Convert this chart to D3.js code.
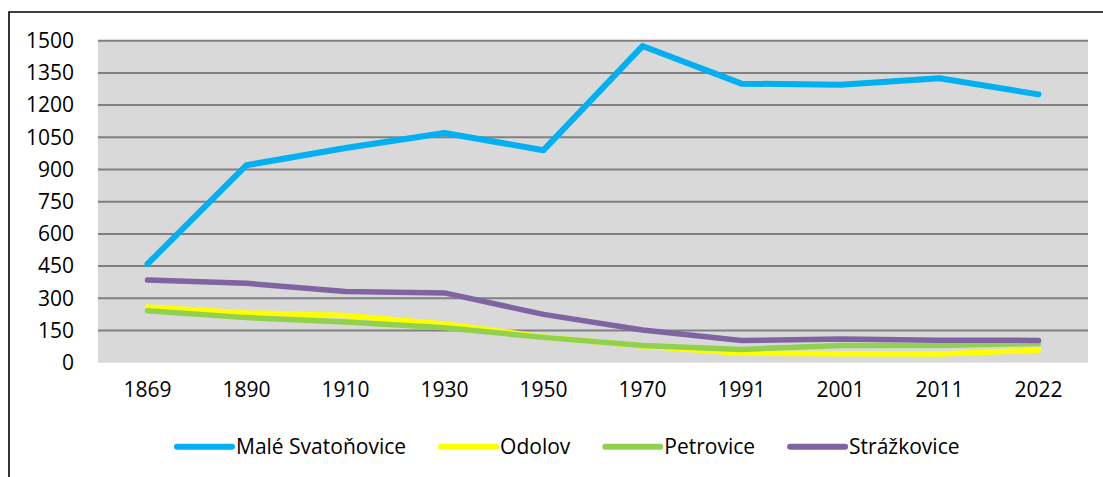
<!DOCTYPE html>
<html>
<head>
<meta charset="utf-8">
<script src="https://cdn.jsdelivr.net/npm/d3@7"></script>
<style>
  html, body { margin: 0; padding: 0; background: #fff; }
  svg { display: block; }
  text { font-family: "Open Sans", sans-serif; fill: #000; }
</style>
</head>
<body>
<svg id="chart" width="1103" height="477"></svg>
<script>
const years = ["1869","1890","1910","1930","1950","1970","1991","2001","2011","2022"];
const maleSvatonovice = [460, 920, 1000, 1070, 990, 1475, 1300, 1295, 1325, 1250];
const odolov = [260, 232, 220, 180, 120, 78, 44, 42, 40, 58];
const petrovice = [242, 210, 190, 163, 118, 80, 62, 80, 80, 90];
const strazkovice = [385, 370, 332, 325, 225, 152, 103, 110, 105, 104];
const seriesNames = ["Malé Svatoňovice", "Odolov", "Petrovice", "Strážkovice"];
const yTicks = [0, 150, 300, 450, 600, 750, 900, 1050, 1200, 1350, 1500];

const colors = ["#00b0f0", "#ffff00", "#92d050", "#8064a2"];
const seriesValues = [maleSvatonovice, odolov, petrovice, strazkovice];

const svg = d3.select("#chart");
const plot = { left: 98, right: 1088, top: 40.7, bottom: 362.7 };
const fontSize = 21;

// outer border (left and top visible)
svg.append("path")
  .attr("d", `M9,${477} V12 H1103`)
  .attr("fill", "none")
  .attr("stroke", "#000")
  .attr("stroke-width", 1.6);

const x = d3.scaleBand().domain(years).range([plot.left, plot.right]).padding(0);
const y = d3.scaleLinear().domain([0, 1500]).range([plot.bottom, plot.top]);

// plot background
svg.append("rect")
  .attr("x", plot.left).attr("y", plot.top)
  .attr("width", plot.right - plot.left).attr("height", plot.bottom - plot.top)
  .attr("fill", "#d9d9d9");

// gridlines
svg.append("g").selectAll("line")
  .data(yTicks.filter(d => d > 0))
  .join("line")
  .attr("x1", plot.left).attr("x2", plot.right)
  .attr("y1", d => y(d)).attr("y2", d => y(d))
  .attr("stroke", "#808080").attr("stroke-width", 2);

// y axis
const yAxis = svg.append("g")
  .attr("transform", `translate(${plot.left},0)`)
  .call(d3.axisLeft(y).tickValues(yTicks).tickSize(0).tickPadding(24).tickFormat(d3.format("d")));
yAxis.select(".domain").remove();
yAxis.selectAll("text").attr("font-size", fontSize).attr("font-family", "Open Sans, sans-serif").attr("fill", "#000");

// x axis
const xAxis = svg.append("g")
  .attr("transform", `translate(0,${plot.bottom})`)
  .call(d3.axisBottom(x).tickSize(0).tickPadding(19));
xAxis.select(".domain").remove();
xAxis.selectAll("text").attr("font-size", fontSize).attr("font-family", "Open Sans, sans-serif").attr("fill", "#000");

// lines
const line = d3.line()
  .x((d, i) => x(years[i]) + x.bandwidth() / 2)
  .y(d => y(d));

seriesValues.forEach((vals, k) => {
  svg.append("path")
    .datum(vals)
    .attr("d", line)
    .attr("fill", "none")
    .attr("stroke", colors[k])
    .attr("stroke-width", k === 0 ? 6 : 5.5)
    .attr("stroke-linecap", "round")
    .attr("stroke-linejoin", "round");
});

// legend
const legendY = 446.7;
let lx = 177;
seriesNames.forEach((name, k) => {
  const g = svg.append("g");
  g.append("line")
    .attr("x1", lx).attr("x2", lx + 55)
    .attr("y1", legendY).attr("y2", legendY)
    .attr("stroke", colors[k]).attr("stroke-width", 6)
    .attr("stroke-linecap", "round");
  const t = g.append("text")
    .attr("x", lx + 59).attr("y", legendY)
    .attr("dy", "0.35em")
    .attr("font-size", fontSize)
    .text(name);
  lx = lx + 59 + t.node().getComputedTextLength() + 35;
});
</script>
</body>
</html>
